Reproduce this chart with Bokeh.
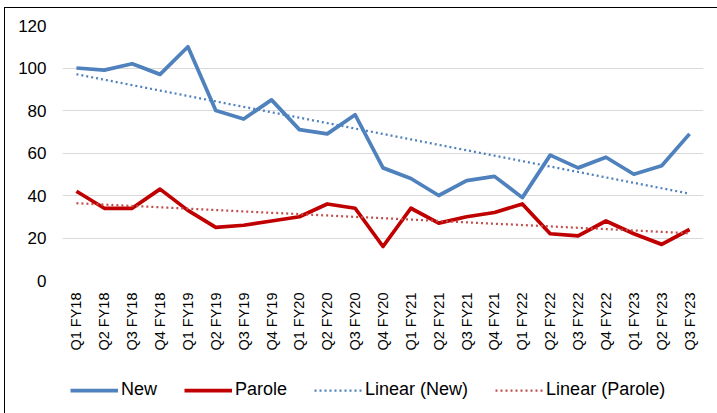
import math
import numpy as np
from bokeh.plotting import figure
from bokeh.layouts import column
from bokeh.models import FactorRange, Range1d, Legend, LegendItem, FixedTicker
from bokeh.embed import file_html
from bokeh.resources import INLINE

categories = ["Q1 FY18", "Q2 FY18", "Q3 FY18", "Q4 FY18",
              "Q1 FY19", "Q2 FY19", "Q3 FY19", "Q4 FY19",
              "Q1 FY20", "Q2 FY20", "Q3 FY20", "Q4 FY20",
              "Q1 FY21", "Q2 FY21", "Q3 FY21", "Q4 FY21",
              "Q1 FY22", "Q2 FY22", "Q3 FY22", "Q4 FY22",
              "Q1 FY23", "Q2 FY23", "Q3 FY23"]
new_vals = [100, 99, 102, 97, 110, 80, 76, 85, 71, 69, 78, 53,
            48, 40, 47, 49, 39, 59, 53, 58, 50, 54, 69]
parole_vals = [42, 34, 34, 43, 33, 25, 26, 28, 30, 36, 34, 16,
               34, 27, 30, 32, 36, 22, 21, 28, 22, 17, 24]
y_ticks = [0, 20, 40, 60, 80, 100, 120]
legend_labels = ["New", "Parole", "Linear (New)", "Linear (Parole)"]

idx = np.arange(len(categories))
k_new, b_new = np.polyfit(idx, new_vals, 1)
k_par, b_par = np.polyfit(idx, parole_vals, 1)
trend_new = list(k_new * idx + b_new)
trend_par = list(k_par * idx + b_par)

FONT = "Liberation Sans"
BLUE = "#4F81BD"
RED = "#C00000"
RED_TREND = "#C0504D"

styles = [dict(line_color=BLUE, line_width=3.75, line_join="round"),
          dict(line_color=RED, line_width=3.75, line_join="round"),
          dict(line_color=BLUE, line_width=2.25, line_dash="2 3"),
          dict(line_color=RED_TREND, line_width=2.25, line_dash="2 3")]

W = 712
LEFT = 57
p = figure(width=W, height=345, output_backend="svg", toolbar_location=None,
           x_range=FactorRange(factors=categories, range_padding=0),
           y_range=Range1d(0, 120),
           min_border_left=LEFT, min_border_right=14, min_border_top=17, min_border_bottom=73)
p.outline_line_color = None
p.background_fill_color = "white"
p.border_fill_color = "white"

p.yaxis.ticker = FixedTicker(ticks=y_ticks)
p.ygrid.grid_line_color = "#D9D9D9"
p.ygrid.grid_line_width = 1
p.xgrid.grid_line_color = None
for ax in (p.xaxis, p.yaxis):
    ax.axis_line_color = None
    ax.major_tick_line_color = None
    ax.minor_tick_line_color = None
    ax.major_tick_in = 0
    ax.major_tick_out = 0
    ax.major_label_text_font = FONT
    ax.major_label_text_color = "#000000"
p.yaxis.major_label_text_font_size = "17px"
p.yaxis.major_label_standoff = 16
p.xaxis.major_label_text_font_size = "14.5px"
p.xaxis.major_label_orientation = math.pi / 2
p.xaxis.major_label_standoff = 12

series = [new_vals, parole_vals, trend_new, trend_par]
for ys, st in zip(series, styles):
    p.line(categories, ys, **st)

# legend strip (separate figure so it is not clipped by the plot frame)
q = figure(width=W, height=60, output_backend="svg", toolbar_location=None,
           x_range=Range1d(0, 1), y_range=Range1d(0, 1),
           x_axis_location=None, y_axis_location=None,
           min_border_left=LEFT, min_border_right=14, min_border_top=0, min_border_bottom=0)
q.grid.visible = False
q.outline_line_color = None
q.background_fill_color = "white"
q.border_fill_color = "white"
items = []
nan = float("nan")
for lab, st in zip(legend_labels, styles):
    r = q.line(x=[nan], y=[nan], **st)
    items.append(LegendItem(label=lab, renderers=[r]))
legend = Legend(items=items, orientation="horizontal", location=(8, 13),
                label_text_font=FONT, label_text_font_size="18px",
                label_text_color="#000000",
                glyph_width=48, glyph_height=20, label_height=20,
                label_standoff=3, spacing=27, padding=0, margin=0,
                border_line_color=None, background_fill_alpha=0)
q.add_layout(legend, "center")

layout = column(p, q, spacing=0,
                styles={"border-top": "1px solid #000", "border-left": "1px solid #000",
                        "margin-left": "4px", "margin-top": "7px"})

open("out.html", "w").write(file_html(layout, INLINE))
